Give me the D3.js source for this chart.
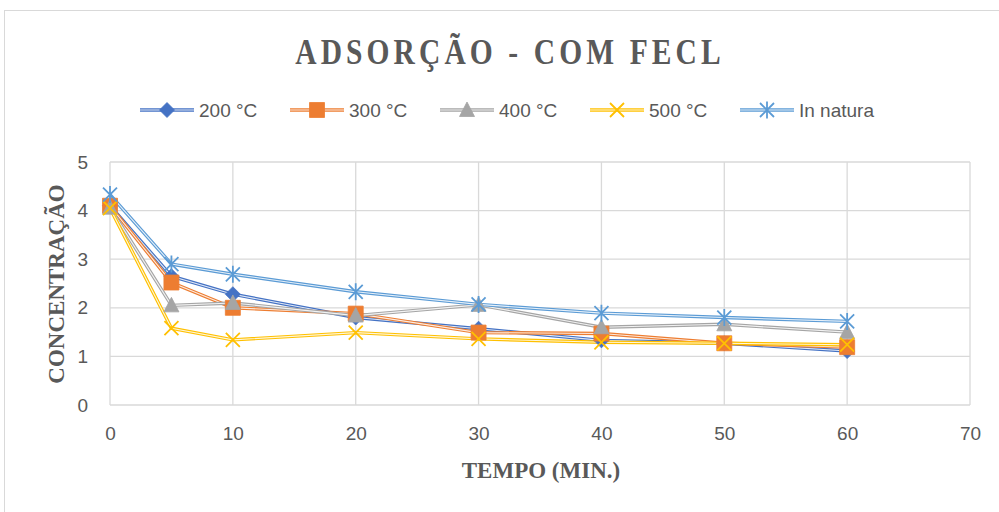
<!DOCTYPE html>
<html><head><meta charset="utf-8">
<script src="https://cdn.jsdelivr.net/npm/d3@7"></script>
<style>body{margin:0;background:#fff}svg{display:block}</style>
</head><body><svg id="c" width="999" height="512"></svg>
<script>
const times = [0, 5, 10, 20, 30, 40, 50, 60];
const s200 = [4.10, 2.65, 2.28, 1.80, 1.57, 1.33, 1.27, 1.11];
const s300 = [4.10, 2.52, 2.00, 1.88, 1.49, 1.47, 1.27, 1.19];
const s400 = [4.06, 2.05, 2.10, 1.84, 2.06, 1.60, 1.66, 1.50];
const s500 = [4.05, 1.58, 1.34, 1.49, 1.36, 1.29, 1.27, 1.24];
const sNat = [4.33, 2.90, 2.69, 2.33, 2.07, 1.89, 1.80, 1.72];
const seriesNames = ["200 °C", "300 °C", "400 °C", "500 °C", "In natura"];
const seriesColors = ["#4472C4", "#ED7D31", "#A5A5A5", "#FFC000", "#5B9BD5"];
const seriesMarkers = ["diamond", "square", "triangle", "x", "star"];
const xTicks = [0, 10, 20, 30, 40, 50, 60, 70];
const yTicks = [0, 1, 2, 3, 4, 5];
const allSeries = [s200, s300, s400, s500, sNat];

const svg = d3.select("#c");
const x = d3.scaleLinear().domain([0, 70]).range([110, 970]);
const y = d3.scaleLinear().domain([0, 5]).range([405, 162]);
const grid = "#d9d9d9", txt = "#595959";

svg.append("rect").attr("x", 4.5).attr("y", 10.5).attr("width", 1000).attr("height", 510)
  .attr("fill", "#fff").attr("stroke", "#d9d9d9");

// gridlines
svg.append("g").selectAll("line").data(yTicks).join("line")
  .attr("x1", x(0)).attr("x2", x(70)).attr("y1", d => y(d)).attr("y2", d => y(d))
  .attr("stroke", grid).attr("stroke-width", 1.3);
svg.append("g").selectAll("line").data(xTicks).join("line")
  .attr("x1", d => x(d)).attr("x2", d => x(d)).attr("y1", y(0)).attr("y2", y(5))
  .attr("stroke", grid).attr("stroke-width", 1.3);

// axes labels via d3 axes
const ya = svg.append("g").attr("transform", `translate(${x(0)},0)`)
  .call(d3.axisLeft(y).tickValues(yTicks).tickFormat(d3.format("d")).tickSize(0).tickPadding(22));
const xa = svg.append("g").attr("transform", `translate(0,${y(0)})`)
  .call(d3.axisBottom(x).tickValues(xTicks).tickFormat(d3.format("d")).tickSize(0).tickPadding(22));
[ya, xa].forEach(a => {
  a.select(".domain").remove();
  a.selectAll("text").attr("fill", txt).style("font-family", "Liberation Sans, Arial, sans-serif").style("font-size", "19px");
});

function markerPath(type) {
  switch (type) {
    case "diamond": return "M0,-7.5L7.5,0L0,7.5L-7.5,0Z";
    case "square": return "M-7.5,-7.5H7.5V7.5H-7.5Z";
    case "triangle": return "M0,-8L7.5,6.5H-7.5Z";
    case "x": return "M-7,-7L7,7M7,-7L-7,7";
    case "star": return "M-7,-7L7,7M7,-7L-7,7M0,-8.5V8.5";
  }
}
function drawMarker(g, type, color) {
  const filled = type !== "x" && type !== "star";
  g.append("path").attr("d", markerPath(type))
    .attr("fill", filled ? color : "none")
    .attr("stroke", color).attr("stroke-width", filled ? 0.8 : 1.8);
}

const line = d3.line().x((d, i) => x(times[i])).y(d => y(d));
allSeries.forEach((s, k) => {
  const g = svg.append("g");
  g.append("path").attr("d", line(s)).attr("fill", "none").attr("stroke", seriesColors[k]).attr("stroke-width", 3.4);
  g.append("path").attr("d", line(s)).attr("fill", "none").attr("stroke", "#fff").attr("stroke-width", 1.1).attr("stroke-opacity", 0.85);
});
allSeries.forEach((s, k) => {
  s.forEach((v, i) => {
    const m = svg.append("g").attr("transform", `translate(${x(times[i])},${y(v)})`);
    drawMarker(m, seriesMarkers[k], seriesColors[k]);
  });
});

// legend
seriesNames.forEach((n, k) => {
  const lx = 140 + k * 150, ly = 110;
  const g = svg.append("g");
  g.append("line").attr("x1", lx).attr("x2", lx + 54).attr("y1", ly).attr("y2", ly).attr("stroke", seriesColors[k]).attr("stroke-width", 3.4);
  g.append("line").attr("x1", lx).attr("x2", lx + 54).attr("y1", ly).attr("y2", ly).attr("stroke", "#fff").attr("stroke-width", 1.1).attr("stroke-opacity", 0.85);
  drawMarker(g.append("g").attr("transform", `translate(${lx + 27},${ly})`), seriesMarkers[k], seriesColors[k]);
  g.append("text").attr("x", lx + 59).attr("y", ly).attr("dy", "0.35em").text(n)
    .attr("fill", txt).style("font-family", "Liberation Sans, Arial, sans-serif").style("font-size", "19px");
});

// titles
svg.append("text").attr("transform", "translate(510,64) scale(0.82,1)").attr("text-anchor", "middle")
  .text("ADSORÇÃO - COM FECL").attr("fill", txt)
  .style("font-family", "Liberation Serif, Times New Roman, serif").style("font-weight", "bold")
  .style("font-size", "36px").style("letter-spacing", "5px");
svg.append("text").attr("x", 541).attr("y", 478).attr("text-anchor", "middle")
  .text("TEMPO (MIN.)").attr("fill", txt)
  .style("font-family", "Liberation Serif, Times New Roman, serif").style("font-weight", "bold").style("font-size", "23px");
svg.append("text").attr("transform", "translate(64,284) rotate(-90)").attr("text-anchor", "middle")
  .text("CONCENTRAÇÃO").attr("fill", txt)
  .style("font-family", "Liberation Serif, Times New Roman, serif").style("font-weight", "bold").style("font-size", "23px");
</script></body></html>
